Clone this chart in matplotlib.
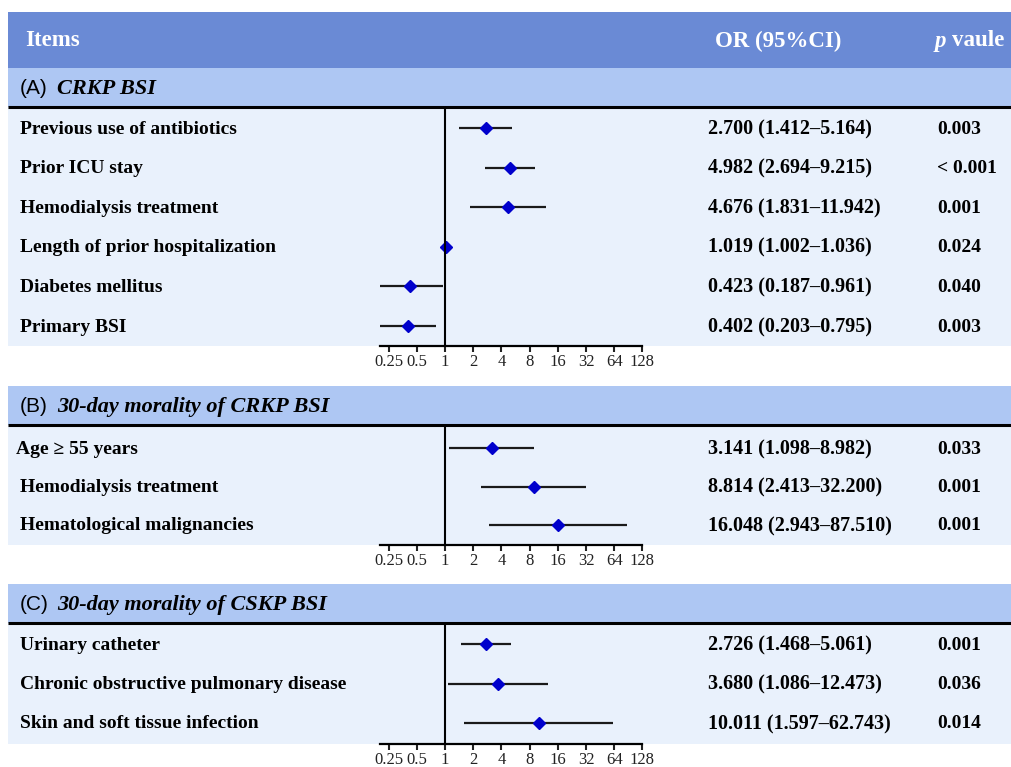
import numpy as np
import matplotlib
matplotlib.use("Agg")
import matplotlib.pyplot as plt
from matplotlib.patches import Rectangle

# ---- data ----
sec_tags = ["(A)", "(B)", "(C)"]
sec_titles = ["CRKP BSI", "30-day morality of CRKP BSI", "30-day morality of CSKP BSI"]

items_a = ["Previous use of antibiotics", "Prior ICU stay", "Hemodialysis treatment",
           "Length of prior hospitalization", "Diabetes mellitus", "Primary BSI"]
or_a = [2.700, 4.982, 4.676, 1.019, 0.423, 0.402]
lo_a = [1.412, 2.694, 1.831, 1.002, 0.187, 0.203]
hi_a = [5.164, 9.215, 11.942, 1.036, 0.961, 0.795]
p_a = ["0.003", "< 0.001", "0.001", "0.024", "0.040", "0.003"]

items_b = ["Age \u2265 55 years", "Hemodialysis treatment", "Hematological malignancies"]
or_b = [3.141, 8.814, 16.048]
lo_b = [1.098, 2.413, 2.943]
hi_b = [8.982, 32.200, 87.510]
p_b = ["0.033", "0.001", "0.001"]

items_c = ["Urinary catheter", "Chronic obstructive pulmonary disease",
           "Skin and soft tissue infection"]
or_c = [2.726, 3.680, 10.011]
lo_c = [1.468, 1.086, 1.597]
hi_c = [5.061, 12.473, 62.743]
p_c = ["0.001", "0.036", "0.014"]

ticks = [0.25, 0.5, 1, 2, 4, 8, 16, 32, 64, 128]
tick_labels = ["0.25", "0.5", "1", "2", "4", "8", "16", "32", "64", "128"]

# ---- layout (pixels) ----
W, H = 1012, 767
C_HEAD = "#6A8AD5"
C_SEC = "#AEC7F3"
C_ROW = "#E9F1FC"
SERIF = "Liberation Serif"
SANS = "Liberation Sans"
FS = 14

fig = plt.figure(figsize=(W / 100, H / 100), dpi=100)
bg = fig.add_axes([0, 0, 1, 1])
bg.set_xlim(0, W)
bg.set_ylim(H, 0)
bg.axis("off")

# top header
bg.add_patch(Rectangle((8, 12), W - 8, 56, color=C_HEAD, lw=0))
bg.text(25, 41, "Items", color="white", fontsize=16.5, fontweight="bold", family=SERIF, va="center")
bg.text(715, 41, "OR (95%CI)", color="white", fontsize=16.5, fontweight="bold", family=SERIF, va="center")
bg.text(935, 41, "p", color="white", fontsize=16.5, fontweight="bold", style="italic", family=SERIF, va="center")
bg.text(952, 41, "vaule", color="white", fontsize=16.5, fontweight="bold", family=SERIF, va="center")

sections = [
    dict(items=items_a, orv=or_a, lo=lo_a, hi=hi_a, p=p_a, top=68, row0=128, step=39.6, bottom=346),
    dict(items=items_b, orv=or_b, lo=lo_b, hi=hi_b, p=p_b, top=386, row0=448, step=38.5, bottom=545),
    dict(items=items_c, orv=or_c, lo=lo_c, hi=hi_c, p=p_c, top=584, row0=644, step=39.5, bottom=744),
]

ax_l, ax_r = 380, 643
for k, s in enumerate(sections):
    top = s["top"]
    line_y = top + 39
    bg.add_patch(Rectangle((8, top), W - 8, 39, color=C_SEC, lw=0))
    bg.add_patch(Rectangle((8, line_y), W - 8, s["bottom"] - line_y, color=C_ROW, lw=0))
    bg.plot([8, W], [line_y, line_y], color="black", lw=2.2, solid_capstyle="butt")
    bg.text(20, top + 21, sec_tags[k], fontsize=15, family=SANS, va="center")
    bg.text(57, top + 21, sec_titles[k], fontsize=16, family=SERIF, fontweight="bold",
            style="italic", va="center")

    n = len(s["items"])
    for i in range(n):
        y = s["row0"] + s["step"] * i + 1
        lx = 16 if s["items"][i].startswith("Age") else 20
        bg.text(lx, y, s["items"][i], fontsize=FS, family=SERIF, fontweight="bold", va="center")
        bg.text(708, y, "%.3f (%.3f\u2013%.3f)" % (s["orv"][i], s["lo"][i], s["hi"][i]),
                fontsize=14.5, family=SERIF, fontweight="bold", va="center")
        bg.text(937, y, s["p"][i], fontsize=FS, family=SERIF, fontweight="bold", va="center")

    # forest axes
    y_top = line_y + 1
    y_bot = s["bottom"]
    ax = fig.add_axes([ax_l / W, 1 - y_bot / H, (ax_r - ax_l) / W, (y_bot - y_top) / H])
    ax.patch.set_alpha(0)
    ax.set_xscale("log", base=2)
    ax.set_xlim(2 ** -2.31, 2 ** 7.02)
    b_idx = (y_bot - s["row0"]) / s["step"]
    t_idx = (y_top - s["row0"]) / s["step"]
    ax.set_ylim(b_idx, t_idx)
    idx = np.arange(n)
    ax.hlines(idx, s["lo"], s["hi"], color="#1a1a1a", lw=1.6)
    ax.plot(s["orv"], idx, ls="none", marker="D", ms=6, color="#0000CC")
    ax.axvline(1, color="black", lw=1.5)
    for sp in ["top", "right", "left"]:
        ax.spines[sp].set_visible(False)
    ax.spines["bottom"].set_linewidth(1.6)
    ax.spines["bottom"].set_bounds(ax.get_xlim()[0], 128)
    ax.set_yticks([])
    ax.set_xticks(ticks)
    ax.set_xticklabels(tick_labels, family=SERIF, fontsize=12)
    ax.minorticks_off()
    ax.tick_params(axis="x", length=4, width=1.5, pad=1.5, colors="#222222")

fig.savefig("out.png", dpi=100)
